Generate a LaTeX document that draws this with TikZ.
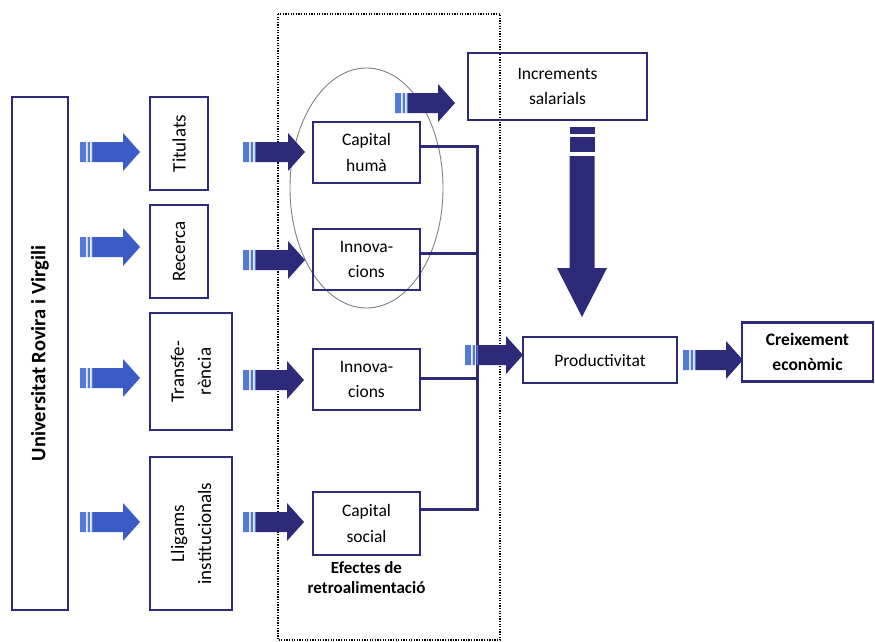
\documentclass[tikz,border=0pt]{standalone}
\usepackage{fontspec}
\setmainfont{Carlito}
\usetikzlibrary{calc}

\definecolor{navy}{RGB}{46,42,122}
\definecolor{royal}{RGB}{58,92,196}
\definecolor{stripeblue}{RGB}{84,122,216}
\newcommand{\diagfont}{\fontsize{17.5}{25.5}\selectfont}
\newcommand{\sidefont}{\fontsize{19}{27}\selectfont}

\begin{document}
\begin{tikzpicture}[x=1pt,y=1pt,line join=miter,
  box/.style={draw=navy,line width=2.2pt,align=center,inner sep=2pt,font=\diagfont},
  sidebox/.style={box,rotate=90,font=\sidefont},
  link/.style={draw=navy,line width=3pt},
  fatarrow/.pic={
    \fill[stripeblue] (0,-10) rectangle (6,10) (7.5,-10) rectangle (10,10) (11.5,-10) rectangle (13,10);
    \fill[pic actions] (13,-10) -- ({#1-17},-10) -- ({#1-17},-19) -- (#1,0) -- ({#1-17},19) -- ({#1-17},10) -- (13,10) -- cycle;
  }]
\useasboundingbox (0,0) rectangle (875,-642);

% feedback zone
\draw [gray,line width=0.9pt] (366.5,-188) ellipse (76.5 and 120);
\draw [line width=2.2pt,dash pattern=on 1.3pt off 1.3pt] (278,-14) rectangle (500,-640);

% boxes
\node[sidebox,minimum width=513,minimum height=56,font=\fontsize{20.5}{25}\selectfont\bfseries] (uni) at (40,-353.5) {Universitat Rovira i Virgili};
\node[sidebox,minimum width=93,minimum height=58] (tit) at (179,-143.5) {Titulats};
\node[sidebox,minimum width=93,minimum height=58] (rec) at (179,-251.5) {Recerca};
\node[sidebox,minimum width=117,minimum height=82] (tra) at (191,-371.5) {Transfe-\\rència};
\node[sidebox,minimum width=153,minimum height=82] (lli) at (191,-533.5) {Lligams\\institucionals};
\node[box,minimum width=107,minimum height=61] (ch) at (366.5,-152.5) {Capital\\humà};
\node[box,minimum width=107,minimum height=61] (in1) at (366.5,-259.5) {Innova-\\cions};
\node[box,minimum width=107,minimum height=61] (in2) at (366.5,-379.5) {Innova-\\cions};
\node[box,minimum width=107,minimum height=63] (cs) at (366.5,-523.5) {Capital\\social};
\node[font=\fontsize{17}{20}\selectfont\bfseries,align=center] (efe) at (366.5,-578) {Efectes de\\retroalimentació};
\node[box,minimum width=179,minimum height=67] (inc) at (557.5,-86.5) {Increments\\salarials};
\node[box,minimum width=154,minimum height=46] (prod) at (600,-360) {Productivitat};
\node[box,minimum width=131,minimum height=59,font=\diagfont\bfseries] (cre) at (807.5,-352) {Creixement\\econòmic};

% bus to productivity
\coordinate (bus) at (477,0);
\draw[link] ([yshift=6]ch.east) -- ([yshift=6]ch.east -| bus) |- ([yshift=14]cs.east);
\draw[link] ([yshift=6.5]in1.east) -- ([yshift=6.5]in1.east -| bus);
\draw[link] ([yshift=1.5]in2.east) -- ([yshift=1.5]in2.east -| bus);

% block arrows
\pic[fill=royal] at (80,-152) {fatarrow=60};
\pic[fill=royal] at (80,-247) {fatarrow=60};
\pic[fill=royal] at (80,-378) {fatarrow=60};
\pic[fill=royal] at (80,-522) {fatarrow=60};
\pic[fill=navy] at (243,-152) {fatarrow=62};
\pic[fill=navy] at (243,-260) {fatarrow=62};
\pic[fill=navy] at (243,-380) {fatarrow=61};
\pic[fill=navy] at (243,-522) {fatarrow=61};
\pic[fill=navy] at (395,-103) {fatarrow=60};
\pic[fill=navy] at (465,-355) {fatarrow=58};
\pic[fill=navy] at (683,-360) {fatarrow=60};

% drop from wages to productivity
\fill[navy] (569.5,-127) rectangle (594.5,-134);
\fill[navy] (569.5,-137) rectangle (594.5,-152);
\fill[navy] (569.5,-156) -- (569.5,-268) -- (557,-268) -- (582,-317) -- (607,-268) -- (594.5,-268) -- (594.5,-156) -- cycle;
\end{tikzpicture}
\end{document}
